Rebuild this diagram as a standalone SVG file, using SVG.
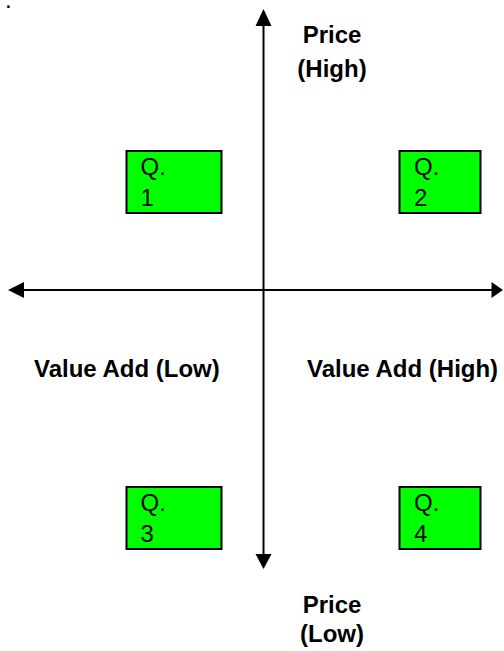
<svg xmlns="http://www.w3.org/2000/svg" width="504" height="651" viewBox="0 0 504 651">
<style>
.lbl{font-family:"Liberation Sans",Arial,sans-serif;font-size:24px;font-weight:bold;fill:#000}
.q{font-family:"Liberation Sans",Arial,sans-serif;font-size:24px;fill:#000}
.box{fill:#00ff00;stroke:#000;stroke-width:2}
.axis{stroke:#000;stroke-width:2;fill:none}
</style>
<rect width="504" height="651" fill="#fff"/>
<text class="q" x="5" y="8">.</text>
<g id="connectors">
<line class="axis" x1="263.5" y1="24" x2="263.5" y2="556"/>
<polygon points="263.5,9 255.5,26 271.5,26" fill="#000"/>
<polygon points="263.5,569 255.5,554 271.5,554" fill="#000"/>
<line class="axis" x1="22" y1="290" x2="493" y2="290"/>
<polygon points="8,290 24,282 24,298" fill="#000"/>
<polygon points="503,290 491.5,282 491.5,298" fill="#000"/>
</g>
<g id="q1"><rect class="box" x="126.5" y="151" width="95" height="62"/><text class="q" x="140.5" y="175">Q.</text><text class="q" x="140.5" y="206">1</text></g>
<g id="q2"><rect class="box" x="399.5" y="151" width="81" height="62"/><text class="q" x="414" y="175">Q.</text><text class="q" x="414" y="206">2</text></g>
<g id="q3"><rect class="box" x="126.5" y="487" width="95" height="62"/><text class="q" x="140.5" y="511">Q.</text><text class="q" x="140.5" y="542">3</text></g>
<g id="q4"><rect class="box" x="399.5" y="487" width="81" height="62"/><text class="q" x="414" y="511">Q.</text><text class="q" x="414" y="542">4</text></g>
<g id="price-high"><text class="lbl" x="332" y="43" text-anchor="middle">Price</text><text class="lbl" x="332" y="77" text-anchor="middle">(High)</text></g>
<g id="price-low"><text class="lbl" x="332" y="613" text-anchor="middle">Price</text><text class="lbl" x="332" y="642" text-anchor="middle">(Low)</text></g>
<g id="va-low"><text class="lbl" x="34" y="377">Value Add (Low)</text></g>
<g id="va-high"><text class="lbl" x="307" y="377">Value Add (High)</text></g>
</svg>
